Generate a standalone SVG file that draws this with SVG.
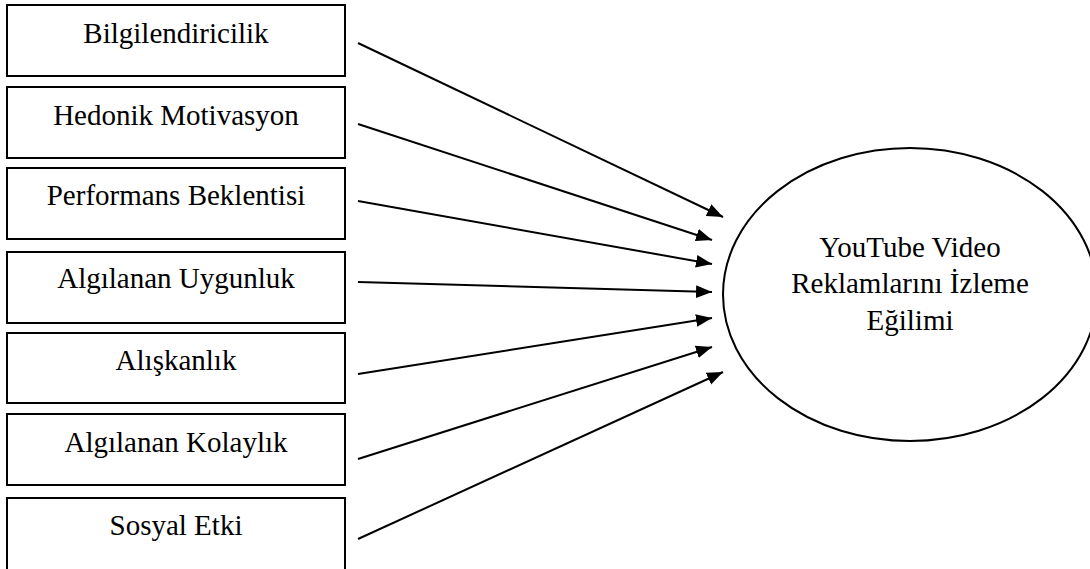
<svg xmlns="http://www.w3.org/2000/svg" width="1090" height="569" viewBox="0 0 1090 569">
<style>
.box{fill:#fff;stroke:#000;stroke-width:2}
.lbl{font-family:"Liberation Serif","Times New Roman",serif;font-size:29px;fill:#000;text-anchor:middle}
.conn{stroke:#000;stroke-width:2;fill:none;marker-end:url(#ah)}
</style>
<defs>
<marker id="ah" markerUnits="userSpaceOnUse" markerWidth="16" markerHeight="14" viewBox="0 0 15 12" refX="15" refY="6" orient="auto">
<path d="M0,0 L15,6 L0,12 Z" fill="#000"/>
</marker>
</defs>
<rect width="1090" height="569" fill="#fff"/>
<g id="n1"><rect class="box" x="7" y="5" width="338" height="71"/><text class="lbl" x="176" y="43">Bilgilendiricilik</text></g>
<g id="n2"><rect class="box" x="7" y="87" width="338" height="71"/><text class="lbl" x="176" y="125">Hedonik Motivasyon</text></g>
<g id="n3"><rect class="box" x="7" y="168" width="338" height="71"/><text class="lbl" x="176" y="205">Performans Beklentisi</text></g>
<g id="n4"><rect class="box" x="7" y="252" width="338" height="71"/><text class="lbl" x="176" y="288">Algılanan Uygunluk</text></g>
<g id="n5"><rect class="box" x="7" y="333" width="338" height="70"/><text class="lbl" x="176" y="370">Alışkanlık</text></g>
<g id="n6"><rect class="box" x="7" y="414" width="338" height="71"/><text class="lbl" x="176" y="452">Algılanan Kolaylık</text></g>
<g id="n7"><rect class="box" x="7" y="498" width="338" height="80"/><text class="lbl" x="176" y="535">Sosyal Etki</text></g>
<g id="target"><ellipse cx="910" cy="294.5" rx="187" ry="146.5" fill="#fff" stroke="#000" stroke-width="2"/>
<text class="lbl" x="910" y="257">YouTube Video</text>
<text class="lbl" x="910" y="293">Reklamlarını İzleme</text>
<text class="lbl" x="910" y="330">Eğilimi</text></g>
<g id="connectors">
<line class="conn" x1="358" y1="43" x2="723" y2="217"/>
<line class="conn" x1="358" y1="124" x2="712" y2="240"/>
<line class="conn" x1="358" y1="201" x2="712" y2="264"/>
<line class="conn" x1="358" y1="282" x2="712" y2="292"/>
<line class="conn" x1="358" y1="374" x2="712" y2="318"/>
<line class="conn" x1="358" y1="459" x2="712" y2="347"/>
<line class="conn" x1="358" y1="539" x2="723" y2="372"/>
</g>
</svg>
